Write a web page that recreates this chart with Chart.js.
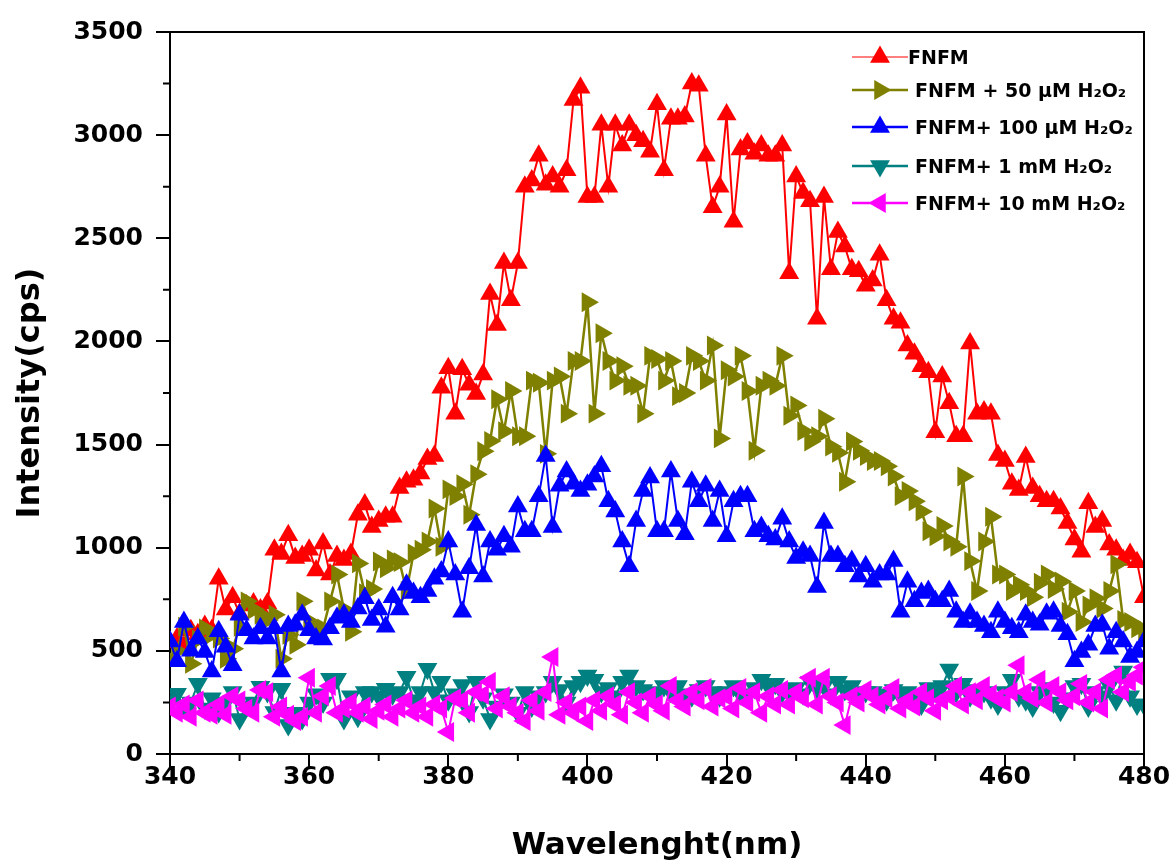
<!DOCTYPE html>
<html>
<head>
<meta charset="utf-8">
<script src="https://cdn.jsdelivr.net/npm/chart.js@4.4.0/dist/chart.umd.min.js"></script>
<style>
html,body{margin:0;padding:0;background:#ffffff;}
canvas{display:block;}
</style>
</head>
<body>
<canvas id="c" width="1175" height="867"></canvas>
<script>
const wavelengths = [340,341,342,343,344,345,346,347,348,349,350,351,352,353,354,355,356,357,358,359,360,361,362,363,364,365,366,367,368,369,370,371,372,373,374,375,376,377,378,379,380,381,382,383,384,385,386,387,388,389,390,391,392,393,394,395,396,397,398,399,400,401,402,403,404,405,406,407,408,409,410,411,412,413,414,415,416,417,418,419,420,421,422,423,424,425,426,427,428,429,430,431,432,433,434,435,436,437,438,439,440,441,442,443,444,445,446,447,448,449,450,451,452,453,454,455,456,457,458,459,460,461,462,463,464,465,466,467,468,469,470,471,472,473,474,475,476,477,478,479,480];

const fnfm = [540,560,520,600,580,620,600,850,700,760,
  680,720,730,700,730,990,970,1060,950,960,
  990,890,1020,870,960,940,970,1160,1210,1100,
  1130,1150,1150,1290,1320,1330,1360,1430,1445,1775,
  1870,1650,1865,1790,1745,1840,2230,2080,2380,2200,
  2380,2750,2780,2900,2760,2800,2750,2830,3170,3230,
  2700,2700,3050,2750,3050,2950,3050,3000,2970,2920,
  3150,2830,3080,3080,3090,3250,3240,2900,2650,2750,
  3100,2580,2930,2960,2910,2950,2900,2900,2950,2330,
  2800,2720,2680,2110,2700,2350,2530,2460,2350,2340,
  2270,2295,2420,2200,2110,2090,1980,1940,1880,1850,
  1560,1830,1700,1540,1540,1990,1650,1660,1650,1450,
  1420,1310,1280,1440,1290,1250,1225,1225,1190,1120,
  1040,980,1215,1100,1130,1015,990,940,970,930,
  760];

const fnfm50uM = [460,500,617,437,555,608,580,560,462,510,
  617,740,700,675,650,675,462,578,530,740,
  642,620,608,740,870,700,593,924,780,800,
  933,900,943,930,790,972,990,1030,1190,1005,
  1283,1250,1308,1160,1356,1468,1517,1720,1565,1760,
  1540,1540,1810,1800,1455,1810,1830,1650,1905,1905,
  2190,1650,2040,1905,1810,1880,1785,1785,1650,1930,
  1915,1810,1905,1735,1750,1930,1905,1810,1980,1530,
  1860,1830,1930,1760,1470,1785,1810,1785,1930,1640,
  1690,1565,1515,1540,1625,1490,1460,1320,1515,1470,
  1445,1420,1420,1395,1345,1250,1275,1225,1175,1080,
  1055,1105,1030,1005,1345,935,790,1030,1150,870,
  870,790,820,790,760,830,870,800,836,690,
  790,640,720,755,705,790,920,650,640,610,
  600];

const fnfm100uM = [545,450,640,500,560,495,400,595,520,430,
  675,600,560,610,560,610,400,620,627,675,
  600,560,555,610,660,675,640,705,755,650,
  700,617,760,700,820,780,760,790,850,885,
  1030,870,690,900,1110,860,1030,990,1055,1005,
  1200,1080,1080,1250,1445,1100,1300,1370,1310,1275,
  1305,1345,1395,1225,1175,1030,910,1130,1275,1340,
  1080,1080,1370,1130,1065,1320,1225,1300,1130,1275,
  1055,1225,1250,1250,1080,1100,1055,1040,1140,1030,
  950,980,960,810,1120,960,960,910,935,860,
  910,835,870,870,935,690,835,740,780,790,
  740,740,790,690,640,680,640,620,590,690,
  640,610,590,675,640,627,680,690,620,580,
  450,495,530,620,627,510,590,545,470,495,
  545];

const fnfm1mM = [260,292,230,250,340,220,270,204,250,300,
  170,230,250,326,300,204,316,141,200,170,
  250,290,250,365,365,170,280,180,300,300,
  280,316,290,300,374,260,300,413,300,350,
  260,290,335,204,350,270,170,230,290,250,
  200,300,230,280,300,350,310,250,330,350,
  380,360,300,320,280,350,380,330,310,290,
  300,330,300,330,290,280,310,330,300,280,
  300,330,290,280,320,360,330,340,300,310,
  320,290,350,320,330,290,350,310,330,280,
  300,300,290,260,310,280,300,270,240,320,
  300,330,410,300,340,280,310,300,270,240,
  300,360,280,260,230,300,320,250,210,270,
  330,340,230,300,280,330,260,400,280,240,
  240];

const fnfm10mM = [230,200,240,180,260,200,190,240,190,280,
  260,220,200,310,300,180,230,190,160,180,
  370,200,280,330,200,220,250,200,230,170,
  210,240,180,220,260,200,230,180,240,220,
  107,270,260,200,300,287,350,220,280,230,
  200,160,260,210,300,470,190,250,200,230,
  160,260,210,280,240,190,300,250,200,280,
  240,210,330,260,230,300,260,320,230,270,
  280,220,320,250,300,200,280,240,310,240,
  300,270,370,240,370,280,250,140,280,250,
  310,280,240,270,320,220,260,230,300,270,
  210,260,280,330,240,300,260,330,290,270,
  250,300,430,300,270,360,250,330,300,260,
  280,340,250,300,220,360,380,300,350,380,
  420];

const seriesLabels = ['FNFM', 'FNFM + 50 \u00B5M H\u2082O\u2082', 'FNFM+ 100 \u00B5M H\u2082O\u2082', 'FNFM+ 1 mM H\u2082O\u2082', 'FNFM+ 10 mM H\u2082O\u2082'];
const seriesColors = ['#FF0000', '#808000', '#0000FF', '#008080', '#FF00FF'];
const seriesRotations = [0, 90, 0, 180, 270];
const xMinorTicks = [350, 370, 390, 410, 430, 450, 470];
const yMinorTicks = [250, 750, 1250, 1750, 2250, 2750, 3250];

const FONT = "'DejaVu Sans', 'Liberation Sans', sans-serif";
const allSeries = [fnfm, fnfm50uM, fnfm100uM, fnfm1mM, fnfm10mM];

function toPoints(values) {
  return wavelengths.map((w, i) => ({ x: w, y: values[i] }));
}

const datasets = allSeries.map((vals, i) => ({
  label: seriesLabels[i],
  data: toPoints(vals),
  borderColor: seriesColors[i],
  backgroundColor: seriesColors[i],
  pointBackgroundColor: seriesColors[i],
  pointBorderColor: seriesColors[i],
  pointBorderWidth: 0,
  borderWidth: i === 1 ? 2.5 : 2,
  pointStyle: 'triangle',
  pointRotation: seriesRotations[i],
  pointRadius: 11.5,
  pointHoverRadius: 11.5,
  tension: 0,
  clip: 0,
  order: 5 - i
}));

function drawTri(ctx, cx, cy, r, rotDeg) {
  let rad = rotDeg * Math.PI / 180;
  ctx.beginPath();
  ctx.moveTo(cx + Math.sin(rad) * r, cy - Math.cos(rad) * r);
  rad += 2 * Math.PI / 3;
  ctx.lineTo(cx + Math.sin(rad) * r, cy - Math.cos(rad) * r);
  rad += 2 * Math.PI / 3;
  ctx.lineTo(cx + Math.sin(rad) * r, cy - Math.cos(rad) * r);
  ctx.closePath();
  ctx.fill();
}

const framePlugin = {
  id: 'framePlugin',
  afterDraw(chart) {
    const { ctx, chartArea: a, scales } = chart;
    const xs = scales.x, ys = scales.y;
    ctx.save();
    ctx.strokeStyle = '#000';
    ctx.lineWidth = 2;
    ctx.beginPath();
    ctx.moveTo(a.left, a.top);
    ctx.lineTo(a.right, a.top);
    ctx.lineTo(a.right, a.bottom);
    ctx.stroke();
    ctx.beginPath();
    yMinorTicks.forEach(v => {
      const py = ys.getPixelForValue(v);
      ctx.moveTo(a.left - 7, py); ctx.lineTo(a.left, py);
    });
    xMinorTicks.forEach(v => {
      const px = xs.getPixelForValue(v);
      ctx.moveTo(px, a.bottom); ctx.lineTo(px, a.bottom + 7);
    });
    ctx.stroke();

    // legend
    const rowsY = [57, 90, 127, 166, 203];
    const lineX0 = 852, lineX1 = 908, markX = 880;
    ctx.font = 'bold 19px ' + FONT;
    ctx.textAlign = 'left';
    ctx.textBaseline = 'alphabetic';
    seriesLabels.forEach((lab, i) => {
      const y = rowsY[i];
      ctx.strokeStyle = seriesColors[i];
      ctx.lineWidth = i === 0 ? 1 : 2.5;
      ctx.beginPath();
      ctx.moveTo(lineX0, y); ctx.lineTo(lineX1, y);
      ctx.stroke();
      ctx.fillStyle = seriesColors[i];
      drawTri(ctx, markX, y, 11.5, seriesRotations[i]);
      ctx.fillStyle = '#000';
      ctx.fillText(lab, i === 0 ? 908 : 915, y + 7);
    });
    ctx.restore();
  }
};

new Chart(document.getElementById('c'), {
  type: 'line',
  data: { datasets },
  plugins: [framePlugin],
  options: {
    responsive: false,
    animation: false,
    events: [],
    layout: { padding: { top: 32, right: 31, left: 0, bottom: 0 } },
    plugins: { legend: { display: false }, tooltip: { enabled: false } },
    scales: {
      x: {
        type: 'linear', min: 340, max: 480,
        ticks: { stepSize: 20, color: '#000', autoSkip: false, maxRotation: 0,
          callback: v => String(v),
          font: { family: FONT, size: 25, weight: 'bold', lineHeight: 1 }, padding: -3 },
        grid: { drawOnChartArea: false, drawTicks: true, tickLength: 14, color: '#000', lineWidth: 2 },
        border: { display: true, color: '#000', width: 2 },
        title: { display: true, text: 'Wavelenght(nm)', color: '#000',
          font: { family: FONT, size: 31, weight: 'bold' }, padding: { top: 0, bottom: 2 } },
        afterFit(s) { s.height = 113; }
      },
      y: {
        type: 'linear', min: 0, max: 3500,
        ticks: { stepSize: 500, color: '#000', callback: v => String(v),
          font: { family: FONT, size: 25, weight: 'bold' }, padding: 13 },
        grid: { drawOnChartArea: false, drawTicks: true, tickLength: 14, color: '#000', lineWidth: 2 },
        border: { display: true, color: '#000', width: 2 },
        title: { display: true, text: 'Intensity(cps)', color: '#000',
          font: { family: FONT, size: 32, weight: 'bold' }, padding: { top: 11, bottom: 0 } },
        afterFit(s) { s.width = 170; }
      }
    }
  }
});
</script>
</body>
</html>
